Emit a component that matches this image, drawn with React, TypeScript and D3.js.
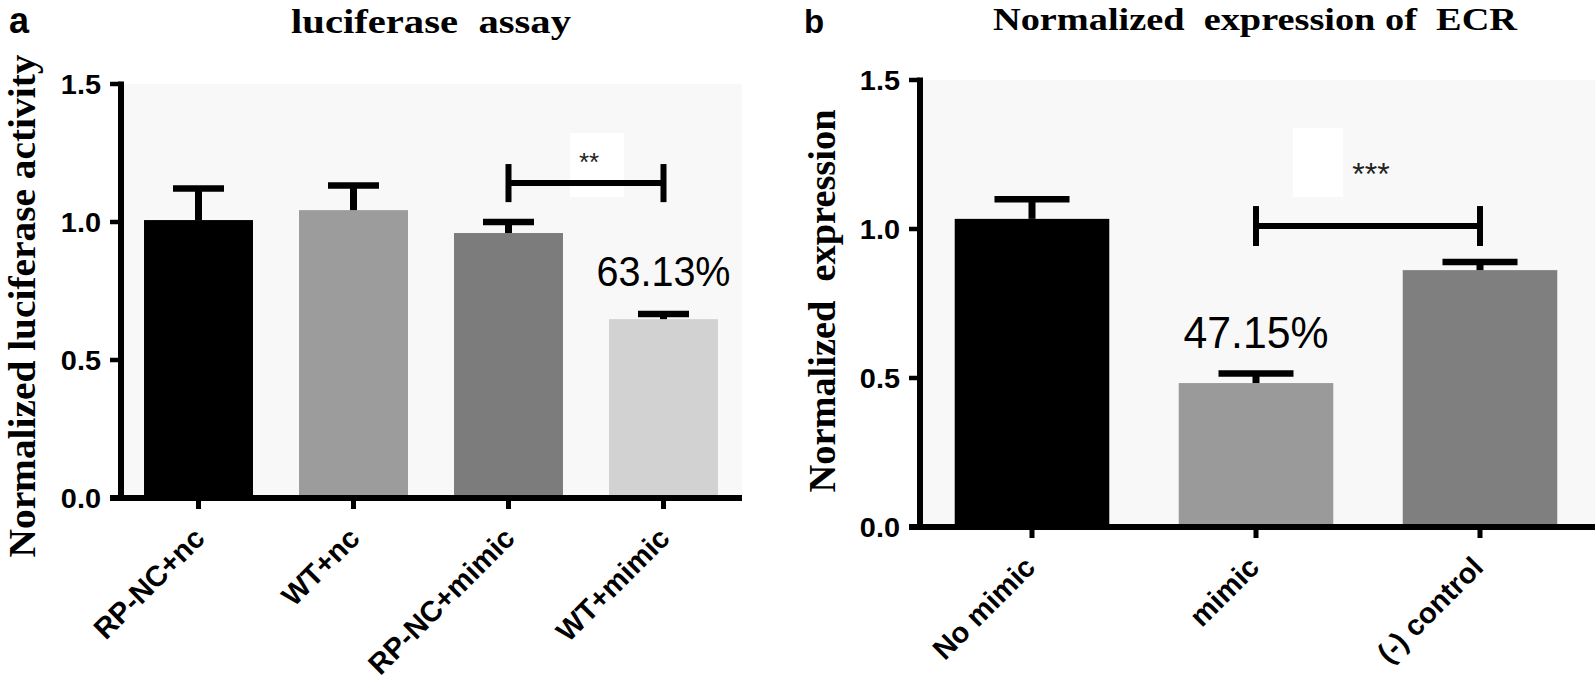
import React from 'react';
import * as d3 from 'd3';

// ---------- data ----------
const catsA = ['RP-NC+nc', 'WT+nc', 'RP-NC+mimic', 'WT+mimic'];
const meansA = [1.007, 1.043, 0.96, 0.648];
const semA = [0.114, 0.089, 0.04, 0.019];
const colorsA = ['#000000', '#9c9c9c', '#7c7c7c', '#d2d2d2'];

const catsB = ['No mimic', 'mimic', '(-) control'];
const meansB = [1.034, 0.483, 0.862];
const semB = [0.066, 0.032, 0.027];
const colorsB = ['#000000', '#9a9a9a', '#7f7f7f'];

const yTickValues = [0, 0.5, 1.0, 1.5];
const yTickLabels = ['0.0', '0.5', '1.0', '1.5'];

const sigA = { from: 2, to: 3, y: 1.141, lo: 1.072, hi: 1.21, label: '**' };
const sigB = { from: 1, to: 2, y: 1.01, lo: 0.943, hi: 1.077, label: '***' };

const pctA = { index: 3, text: '63.13%' };
const pctB = { index: 1, text: '47.15%' };

const SANS = '"Liberation Sans", Arial, sans-serif';
const SERIF = '"Liberation Serif", "Times New Roman", serif';

type PanelProps = {
  cats: string[];
  means: number[];
  sems: number[];
  colors: string[];
  x0: number;
  x1: number;
  plotRight: number;
  y0: number;
  y1: number;
  barRatio: number;
  capW: number;
  sig: any;
  pct: any;
  pctFont: number;
  pctLen: number;
  pctDy: number;
  starFont: number;
  starDy: number;
  box: { dx0: number; dx1: number; dy0: number; dy1: number };
  title: string;
  titleFont: number;
  titleLen: number;
  titleCx: number;
  titleBase: number;
  letter: string;
  letterX: number;
  letterBase: number;
  letterFont: number;
  ylabel: string;
  ylabelX: number;
  ylabelCy: number;
  ylabelLen: number;
  labelDx: number;
};

function Panel(p: PanelProps) {
  const x = d3.scalePoint<string>().domain(p.cats).range([p.x0, p.x1]).padding(0.5);
  const y = d3.scaleLinear().domain([0, 1.5]).range([p.y0, p.y1]);
  const step = x.step();
  const bw = step * p.barRatio;
  const axisX = p.x0;
  const tickLen = 11;
  const sx1 = x(p.cats[p.sig.from])!;
  const sx2 = x(p.cats[p.sig.to])!;
  const smid = (sx1 + sx2) / 2;
  const sy = y(p.sig.y);
  const pcx = x(p.cats[p.pct.index])!;
  const pcy = y(p.means[p.pct.index] + p.sems[p.pct.index]);
  return (
    <g>
      {/* plot background */}
      <rect x={axisX} y={y(1.5)} width={p.plotRight - axisX} height={y(0) - y(1.5)} fill="#f8f8f8" />
      {/* white box behind stars */}
      <rect x={smid + p.box.dx0} y={sy + p.box.dy0} width={p.box.dx1 - p.box.dx0} height={p.box.dy1 - p.box.dy0} fill="#ffffff" />
      {/* bars */}
      {p.cats.map((c, i) => (
        <rect key={c} x={x(c)! - bw / 2} y={y(p.means[i])} width={bw} height={y(0) - y(p.means[i])} fill={p.colors[i]} />
      ))}
      {/* error bars */}
      {p.cats.map((c, i) => {
        const cx = x(c)!;
        const top = y(p.means[i] + p.sems[i]);
        return (
          <g key={'e' + c} stroke="#000">
            <line x1={cx} x2={cx} y1={y(p.means[i])} y2={top} strokeWidth={7} />
            <line x1={cx - p.capW / 2} x2={cx + p.capW / 2} y1={top} y2={top} strokeWidth={6.5} />
          </g>
        );
      })}
      {/* axes */}
      <line x1={axisX} x2={axisX} y1={y(1.5) - 2.5} y2={y(0) + 3} stroke="#000" strokeWidth={6} />
      <line x1={axisX - tickLen} x2={p.plotRight} y1={y(0)} y2={y(0)} stroke="#000" strokeWidth={6} />
      {yTickValues.map((t, i) => (
        <g key={'yt' + t}>
          <line x1={axisX - tickLen} x2={axisX} y1={y(t)} y2={y(t)} stroke="#000" strokeWidth={4.5} />
          <text
            transform={`translate(${axisX - 20},${y(t) + 10}) scale(1.07,1)`}
            textAnchor="end"
            fontFamily={SANS}
            fontWeight="bold"
            fontSize={27}
            fill="#000"
          >
            {yTickLabels[i]}
          </text>
        </g>
      ))}
      {p.cats.map((c) => (
        <g key={'xt' + c}>
          <line x1={x(c)!} x2={x(c)!} y1={y(0)} y2={y(0) + 11} stroke="#000" strokeWidth={5} />
          <text
            transform={`translate(${x(c)! + p.labelDx},${y(0) + 42}) rotate(-45)`}
            textAnchor="end"
            fontFamily={SANS}
            fontWeight="bold"
            fontSize={29}
            fill="#000"
          >
            {c}
          </text>
        </g>
      ))}
      {/* significance bracket */}
      <g stroke="#000">
        <line x1={sx1} x2={sx2} y1={sy} y2={sy} strokeWidth={6} />
        <line x1={sx1} x2={sx1} y1={y(p.sig.lo)} y2={y(p.sig.hi)} strokeWidth={6} />
        <line x1={sx2} x2={sx2} y1={y(p.sig.lo)} y2={y(p.sig.hi)} strokeWidth={6} />
      </g>
      <text x={smid + 3} y={sy - p.starDy} textAnchor="middle" fontFamily={SANS} fontSize={p.starFont} fill="#222">
        {p.sig.label}
      </text>
      {/* percentage */}
      <text
        x={pcx}
        y={pcy - p.pctDy}
        textAnchor="middle"
        fontFamily={SANS}
        fontSize={p.pctFont}
        textLength={p.pctLen}
        lengthAdjust="spacingAndGlyphs"
        fill="#000"
      >
        {p.pct.text}
      </text>
      {/* title */}
      <text
        x={p.titleCx}
        y={p.titleBase}
        textAnchor="middle"
        fontFamily={SERIF}
        fontWeight="bold"
        fontSize={p.titleFont}
        textLength={p.titleLen}
        lengthAdjust="spacingAndGlyphs"
        style={{ whiteSpace: 'pre' }}
        fill="#000"
      >
        {p.title}
      </text>
      {/* panel letter */}
      <text x={p.letterX} y={p.letterBase} fontFamily={SANS} fontWeight="bold" fontSize={p.letterFont} fill="#000">
        {p.letter}
      </text>
      {/* y label */}
      <text
        transform={`translate(${p.ylabelX},${p.ylabelCy}) rotate(-90)`}
        textAnchor="middle"
        fontFamily={SERIF}
        fontWeight="bold"
        fontSize={37}
        textLength={p.ylabelLen}
        lengthAdjust="spacingAndGlyphs"
        style={{ whiteSpace: 'pre' }}
        fill="#000"
      >
        {p.ylabel}
      </text>
    </g>
  );
}

export default function App() {
  return (
    <svg width={1595} height={680} style={{ position: 'absolute', left: 0, top: 0, background: '#fff' }}>
      <rect x={0} y={0} width={1595} height={680} fill="#fff" />
      <Panel
        cats={catsA}
        means={meansA}
        sems={semA}
        colors={colorsA}
        x0={121}
        x1={741}
        plotRight={742}
        y0={498}
        y1={84}
        barRatio={0.703}
        capW={51}
        sig={sigA}
        pct={pctA}
        pctFont={42}
        pctLen={134}
        pctDy={28}
        starFont={26}
        starDy={12}
        box={{ dx0: -16, dx1: 38, dy0: -50, dy1: 14 }}
        title={'luciferase  assay'}
        titleFont={33}
        titleLen={280}
        titleCx={431}
        titleBase={33}
        letter="a"
        letterX={9}
        letterBase={33}
        letterFont={36}
        ylabel="Normalized luciferase activity"
        ylabelX={35}
        ylabelCy={306}
        ylabelLen={503}
        labelDx={8}
      />
      <Panel
        cats={catsB}
        means={meansB}
        sems={semB}
        colors={colorsB}
        x0={920}
        x1={1592}
        plotRight={1595}
        y0={527}
        y1={80}
        barRatio={0.69}
        capW={75}
        sig={sigB}
        pct={pctB}
        pctFont={44}
        pctLen={145}
        pctDy={26}
        starFont={32}
        starDy={41}
        box={{ dx0: -75, dx1: -25, dy0: -98, dy1: -29 }}
        title={'Normalized  expression of  ECR'}
        titleFont={31}
        titleLen={524}
        titleCx={1255}
        titleBase={30}
        letter="b"
        letterX={804}
        letterBase={33}
        letterFont={33}
        ylabel="Normalized  expression"
        ylabelX={835}
        ylabelCy={301}
        ylabelLen={383}
        labelDx={5}
      />
    </svg>
  );
}
